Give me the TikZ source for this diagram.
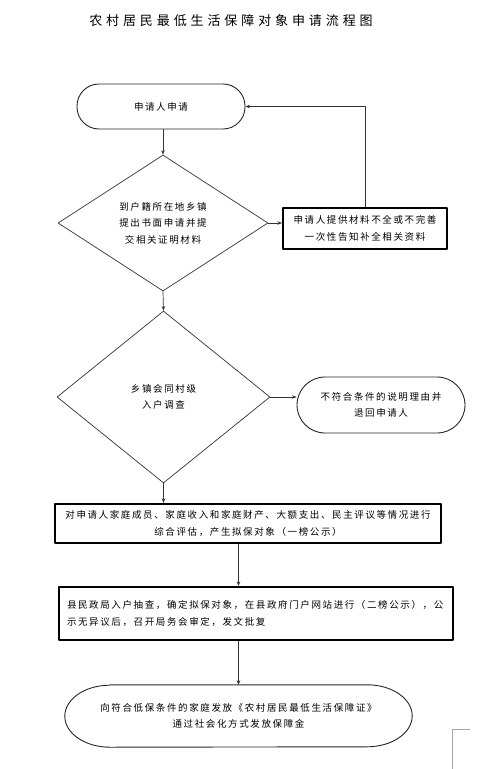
\documentclass[tikz,border=0pt]{standalone}
\usepackage{fontspec}
\usetikzlibrary{arrows.meta,calc,shapes.geometric}
\newfontfamily\cjk[LetterSpace=17]{Noto Sans CJK SC}
\newfontfamily\cjktitle[LetterSpace=30]{Noto Sans CJK SC}
\tikzset{
  base text/.style={font=\cjk\fontsize{9.5}{16.5}\selectfont,align=center,inner sep=2pt},
  title text/.style={font=\cjktitle\fontsize{13}{15}\selectfont,inner sep=0pt},
  terminal/.style={base text,draw=black!85,line width=.9pt},
  decision/.style={base text,diamond,shape aspect=1.5,draw=black!80,line width=.7pt,inner sep=0pt},
  process/.style={base text,draw=black,line width=2pt},
  flow/.style={draw=black!80,line width=.7pt,-{Stealth[length=4.5pt,width=3.5pt]}}
}

\begin{document}
\begin{tikzpicture}[x=1pt,y=-1pt,line cap=round,line join=round]
  \useasboundingbox (0,0) rectangle (497,769);
  % Title of the chart.
  \node[title text] (title) at (231,21) {农村居民最低生活保障对象申请流程图};

  % Application and first check.
  \node[terminal,rounded corners=22pt,minimum width=168pt,minimum height=45pt]
    (apply) at (161,106.5) {申请人申请};
  \node[decision,minimum width=210pt,minimum height=136pt]
    (submit) at (163,223) {到户籍所在地乡镇\\提出书面申请并提\\交相关证明材料};
  \node[process,minimum width=164pt,minimum height=41pt]
    (supply) at (365,228.5) {申请人提供材料不全或不完善\\一次性告知补全相关资料};

  % Household survey.
  \node[decision,minimum width=213pt,minimum height=172pt]
    (survey) at (163.5,397) {乡镇会同村级\\入户调查};
  \node[terminal,rounded corners=28pt,minimum width=168pt,minimum height=56pt]
    (reject) at (381,405) {不符合条件的说明理由并\\退回申请人};

  % Assessment, review and payment.
  \node[process,minimum width=386pt,minimum height=39pt]
    (assess) at (248,523.5) {对申请人家庭成员、家庭收入和家庭财产、大额支出、民主评议等情况进行\\综合评估，产生拟保对象（一榜公示）};
  \node[process,align=left,text width=378pt,inner xsep=8pt,minimum height=53pt]
    (review) at (256,613.5) {县民政局入户抽查，确定拟保对象，在县政府门户网站进行（二榜公示），公\\示无异议后，召开局务会审定，发文批复};
  \node[base text,minimum width=347pt,minimum height=62pt]
    (issue) at (238.5,716) {向符合低保条件的家庭发放《农村居民最低生活保障证》\\通过社会化方式发放保障金};
  \draw[black!85,line width=.9pt]
    ($(issue.north west)+(45,0)$) -- ($(issue.north east)+(-45,0)$)
    arc[start angle=90,end angle=-90,x radius=45pt,y radius=31pt]
    -- ($(issue.south west)+(45,0)$)
    arc[start angle=270,end angle=90,x radius=45pt,y radius=31pt] -- cycle;

  % Connectors.
  \draw[flow] (submit.north |- apply.south) -- (submit.north);
  \draw[flow] (submit.east) -- (submit.east -| supply.west);
  \draw[flow] (supply.north) |- (apply.east);
  \draw[flow] (submit.south) -- (survey.north);
  \draw[flow] (survey.east) -- (survey.east -| reject.west);
  \draw[flow] (survey.south) -- (survey.south |- assess.north);
  \draw[flow] (issue.north |- assess.south) -- (issue.north |- review.north);
  \draw[flow] (issue.north |- review.south) -- (issue.north);

  % Page corner mark.
  \draw[black!35,line width=.6pt] (452,769) -- (452,729) -- (470,729);
\end{tikzpicture}
\end{document}
